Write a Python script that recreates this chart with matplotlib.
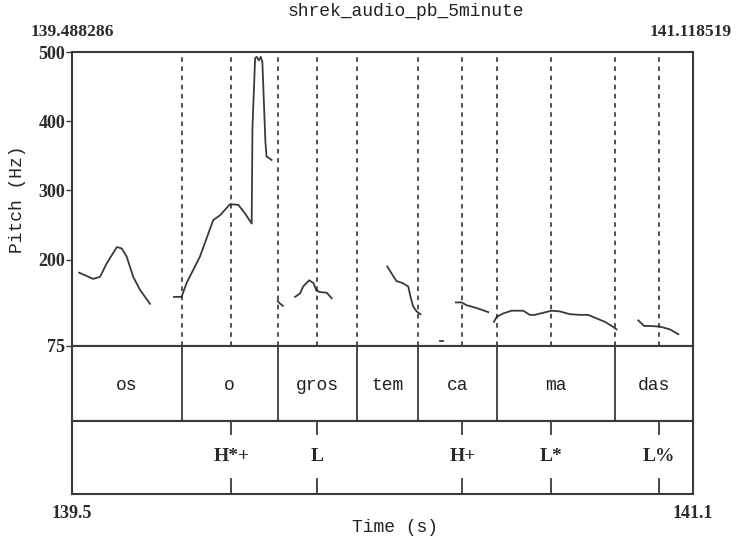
import matplotlib.pyplot as plt

# time range of the window (s)
t_start = 139.488286
t_end = 141.118519

# word tier: boundaries between syllables and labels
word_bounds = [139.776, 140.028, 140.236, 140.397, 140.603, 140.915]
words = ["os", "o", "gros", "tem", "ca", "ma", "das"]

# tone tier
tone_times = [139.907, 140.131, 140.513, 140.747, 141.030]
tones = ["H*+", "L", "H+", "L*", "L%"]

# pitch track pieces (time s, Hz)
os_t = [139.507, 139.544, 139.562, 139.579, 139.606, 139.619, 139.632, 139.649, 139.667, 139.693]
os_hz = [181, 172, 175, 194, 218, 216, 204, 175, 156, 136]

o_t = [139.756, 139.776, 139.789, 139.824, 139.859, 139.877, 139.903, 139.925, 139.942, 139.960,
       139.962, 139.969, 139.973, 139.979, 139.984, 139.988, 139.992, 139.996, 139.999, 140.012]
o_hz = [146, 146, 166, 204, 257, 264, 280, 279, 267, 252,
        390, 491, 493, 488, 493, 486, 428, 370, 349, 344]

g0_t = [140.028, 140.033, 140.042]
g0_hz = [140, 137, 133]

gros_t = [140.074, 140.087, 140.095, 140.111, 140.122, 140.130, 140.139, 140.157, 140.170]
gros_hz = [146, 151, 161, 170, 166, 155, 153, 152, 144]

tem_t = [140.316, 140.327, 140.340, 140.356, 140.371, 140.377, 140.384, 140.393, 140.403]
tem_hz = [190, 180, 169, 166, 161, 146, 132, 125, 121]

dot_t = [140.454, 140.463]
dot_hz = [82, 82]

ca_t = [140.496, 140.511, 140.524, 140.550, 140.581]
ca_hz = [138, 138, 134, 130, 124]

ma_t = [140.596, 140.603, 140.620, 140.642, 140.673, 140.690, 140.703, 140.725, 140.747,
        140.769, 140.795, 140.822, 140.843, 140.865, 140.887, 140.905, 140.918]
ma_hz = [110, 117, 122, 126, 126, 120, 120, 123, 126,
         125, 121, 120, 120, 115, 110, 104, 99]

das_t = [140.975, 140.990, 141.005, 141.032, 141.058, 141.080]
das_hz = [112, 104, 104, 103, 99, 92]

y_ticks = [75, 200, 300, 400, 500]

line_col = "#3a3a3a"
mono = "Liberation Mono"
serif = "Liberation Serif"

fig = plt.figure(figsize=(7.38, 5.4), dpi=100)
left, width = 72 / 738, 621 / 738
ax = fig.add_axes([left, 1 - 346 / 540, width, 294 / 540])
wax = fig.add_axes([left, 1 - 421 / 540, width, 75 / 540])
tax = fig.add_axes([left, 1 - 494 / 540, width, 73 / 540])

for a in (ax, wax, tax):
    a.set_xlim(t_start, t_end)
    for s in a.spines.values():
        s.set_linewidth(1.5)
        s.set_color(line_col)

# pitch panel
for tt, hz in [(os_t, os_hz), (o_t, o_hz), (g0_t, g0_hz), (gros_t, gros_hz), (tem_t, tem_hz),
               (dot_t, dot_hz), (ca_t, ca_hz), (ma_t, ma_hz), (das_t, das_hz)]:
    ax.plot(tt, hz, color=line_col, lw=1.3)
for x in word_bounds + tone_times:
    ax.axvline(x, color="#222222", lw=1.1, ls=(0, (3, 3)))
ax.set_ylim(75, 500)
ax.set_yticks(y_ticks)
ax.set_yticklabels([str(v) for v in y_ticks], fontfamily=serif, fontweight="bold", fontsize=13)
ax.tick_params(axis="y", length=4, width=1, color=line_col, pad=1, labelcolor="#2a2a2a")
ax.set_xticks([])

# word tier
for x in word_bounds:
    wax.axvline(x, color=line_col, lw=1.3)
edges = [t_start] + word_bounds + [t_end]
for i, w in enumerate(words):
    wax.text((edges[i] + edges[i + 1]) / 2, 0.48, w, ha="center", va="center",
             fontfamily=mono, fontsize=13, color="#222222")
wax.set_xticks([])
wax.set_yticks([])

# tone tier
for x in tone_times:
    tax.axvline(x, ymin=0.82, ymax=1, color=line_col, lw=1.3)
    tax.axvline(x, ymin=0, ymax=0.2, color=line_col, lw=1.3)
for x, lab in zip(tone_times, tones):
    tax.text(x, 0.51, lab, ha="center", va="center", fontfamily=serif,
             fontweight="bold", fontsize=14, color="#2a2a2a")
tax.set_yticks([])
tax.set_xticks([t_start, t_end])
tax.set_xticklabels([f"{t_start:.1f}", f"{t_end:.1f}"], fontfamily=serif,
                    fontweight="bold", fontsize=13)
tax.tick_params(axis="x", length=0, pad=8, labelcolor="#2a2a2a")

# labels
fig.text(406 / 738, 1 - 12 / 540, "shrek_audio_pb_5minute", ha="center", va="center",
         fontfamily=mono, fontsize=13, color="#222222")
fig.text(72 / 738, 1 - 32 / 540, f"{t_start:.6f}", ha="center", va="center",
         fontfamily=serif, fontweight="bold", fontsize=12.5, color="#2a2a2a")
fig.text(691 / 738, 1 - 32 / 540, f"{t_end:.6f}", ha="center", va="center",
         fontfamily=serif, fontweight="bold", fontsize=12.5, color="#2a2a2a")
fig.text(18 / 738, 1 - 199 / 540, "Pitch (Hz)", ha="center", va="center", rotation=90,
         fontfamily=mono, fontsize=13, color="#222222")
fig.text(395 / 738, 1 - 527 / 540, "Time (s)", ha="center", va="center",
         fontfamily=mono, fontsize=13, color="#222222")

fig.savefig("out.png", dpi=100)
